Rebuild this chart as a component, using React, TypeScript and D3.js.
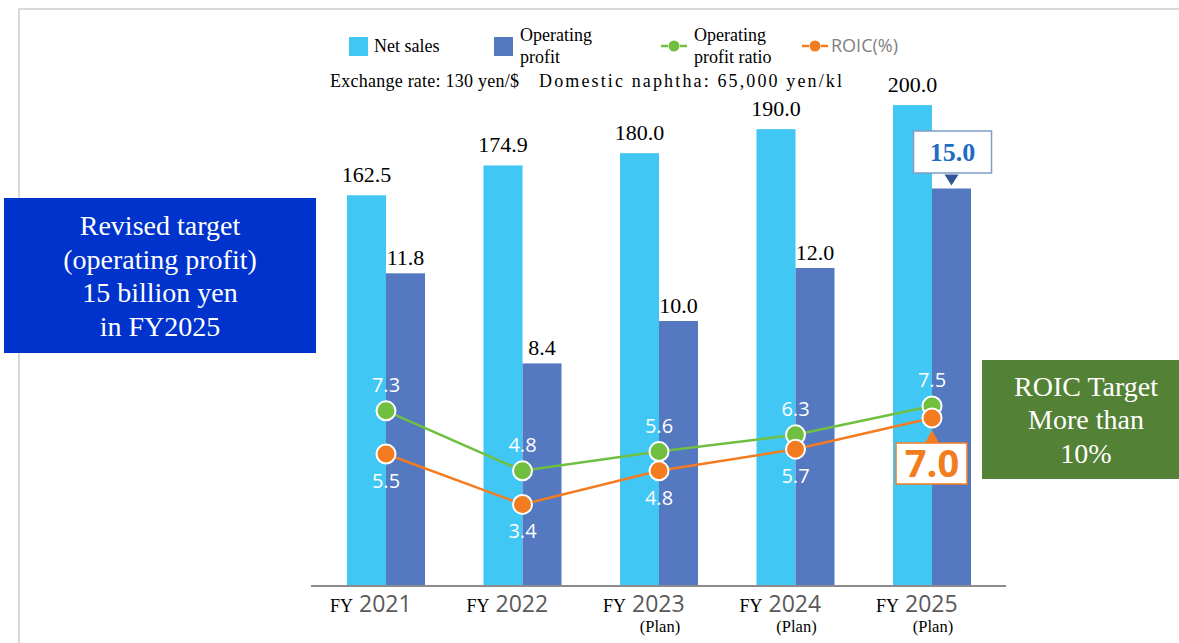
import React from "react";
import * as d3 from "d3";

const categories = ["2021", "2022", "2023", "2024", "2025"];
const planFlags = [false, false, true, true, true];
const netSales = [162.5, 174.9, 180.0, 190.0, 200.0];
const operatingProfit = [11.8, 8.4, 10.0, 12.0, 15.0];
const profitRatio = [7.3, 4.8, 5.6, 6.3, 7.5];
const roic = [5.5, 3.4, 4.8, 5.7, 7.0];

const C_SALES = "#40c7f4";
const C_PROFIT = "#5479c1";
const C_GREEN = "#70bf41";
const C_ORANGE = "#f47c20";
const SERIF = "'Liberation Serif', 'Times New Roman', serif";
const SANS = "'Open Sans', 'Noto Sans', sans-serif";

export default function App() {
  const W = 1179;
  const H = 643;
  const baseY = 586;
  const x = d3.scalePoint<string>().domain(categories).range([386, 932]);
  const ySales = d3.scaleLinear().domain([0, 220]).range([baseY, 57]);
  const yProfit = d3.scaleLinear().domain([0, 20]).range([baseY, 56]);
  const yRatio = d3.scaleLinear().domain([0, 20]).range([baseY, 106]);
  const bw = 39;
  const last = categories.length - 1;

  const line = d3
    .line<number>()
    .x((_, i) => x(categories[i]) as number)
    .y((d) => yRatio(d));

  const fmt = d3.format(".1f");

  return (
    <svg
      width={W}
      height={H}
      style={{ position: "absolute", left: 0, top: 0, background: "#fff" }}
    >
      <rect width={W} height={H} fill="#fff" />
      <path d={`M19,${H} V9 H${W}`} fill="none" stroke="#d9d9d9" strokeWidth={2} />

      {/* Legend */}
      <g fontFamily={SERIF} fontSize={18} fill="#000">
        <rect x={349} y={37} width={19} height={19} fill={C_SALES} />
        <text x={374} y={52}>Net sales</text>
        <rect x={494} y={37} width={19} height={19} fill={C_PROFIT} />
        <text x={520} y={41}>Operating</text>
        <text x={520} y={63}>profit</text>
        <line x1={661} x2={668} y1={46} y2={46} stroke={C_GREEN} strokeWidth={2.5} />
        <line x1={680} x2={687} y1={46} y2={46} stroke={C_GREEN} strokeWidth={2.5} />
        <circle cx={674} cy={46} r={5.5} fill={C_GREEN} />
        <text x={694} y={41}>Operating</text>
        <text x={694} y={63}>profit ratio</text>
        <line x1={802} x2={809} y1={46} y2={46} stroke={C_ORANGE} strokeWidth={2.5} />
        <line x1={821} x2={828} y1={46} y2={46} stroke={C_ORANGE} strokeWidth={2.5} />
        <circle cx={815} cy={46} r={5.5} fill={C_ORANGE} />
        <text x={831} y={52} fontFamily={SANS} fontSize={18} fill="#7f7f7f">ROIC(%)</text>
        <text x={330} y={87} fontSize={18} textLength={189} lengthAdjust="spacing">
          Exchange rate: 130 yen/$
        </text>
        <text x={539} y={87} fontSize={18} textLength={303} lengthAdjust="spacing">
          Domestic naphtha: 65,000 yen/kl
        </text>
      </g>

      {/* Bars */}
      {categories.map((c, i) => {
        const cx = x(c) as number;
        return (
          <g key={c}>
            <rect
              x={cx - bw}
              y={ySales(netSales[i])}
              width={bw}
              height={baseY - ySales(netSales[i])}
              fill={C_SALES}
            />
            <rect
              x={cx}
              y={yProfit(operatingProfit[i])}
              width={bw}
              height={baseY - yProfit(operatingProfit[i])}
              fill={C_PROFIT}
            />
            <text
              x={cx - bw / 2}
              y={ySales(netSales[i]) - 13}
              textAnchor="middle"
              fontFamily={SERIF}
              fontSize={22}
            >
              {fmt(netSales[i])}
            </text>
            {i !== last && (
              <text
                x={cx + bw / 2}
                y={yProfit(operatingProfit[i]) - 8}
                textAnchor="middle"
                fontFamily={SERIF}
                fontSize={22}
              >
                {fmt(operatingProfit[i])}
              </text>
            )}
          </g>
        );
      })}

      {/* Axis */}
      <line x1={311} x2={1006} y1={baseY} y2={baseY} stroke="#8c8c8c" strokeWidth={2} />
      {categories.map((c, i) => {
        const cx = x(c) as number;
        return (
          <g key={"ax" + c}>
            <text x={cx - 56} y={612}>
              <tspan fontFamily={SERIF} fontSize={18} fill="#000">FY</tspan>
              <tspan dx={6} fontFamily={SANS} fontSize={23} fill="#595959">{c}</tspan>
            </text>
            {planFlags[i] && (
              <text x={cx + 1} y={632} textAnchor="middle" fontFamily={SERIF} fontSize={16.5}>
                (Plan)
              </text>
            )}
          </g>
        );
      })}

      {/* Lines */}
      <path d={line(profitRatio) || ""} fill="none" stroke={C_GREEN} strokeWidth={2.5} />
      <path d={line(roic) || ""} fill="none" stroke={C_ORANGE} strokeWidth={2.5} />
      {profitRatio.map((v, i) => (
        <g key={"g" + i}>
          <circle
            cx={x(categories[i]) as number}
            cy={yRatio(v)}
            r={9.5}
            fill={C_GREEN}
            stroke="#fff"
            strokeWidth={2}
          />
          <text
            x={x(categories[i]) as number}
            y={yRatio(v) - 19}
            textAnchor="middle"
            fontFamily={SANS}
            fontSize={20}
            fill="#fff"
          >
            {fmt(v)}
          </text>
        </g>
      ))}
      {roic.map((v, i) => (
        <g key={"o" + i}>
          <circle
            cx={x(categories[i]) as number}
            cy={yRatio(v)}
            r={9.5}
            fill={C_ORANGE}
            stroke="#fff"
            strokeWidth={2}
          />
          {i !== last && (
            <text
              x={x(categories[i]) as number}
              y={yRatio(v) + 34}
              textAnchor="middle"
              fontFamily={SANS}
              fontSize={20}
              fill="#fff"
            >
              {fmt(v)}
            </text>
          )}
        </g>
      ))}

      {/* 15.0 callout */}
      {(() => {
        const cx = (x(categories[last]) as number) + bw / 2;
        const top = yProfit(operatingProfit[last]);
        return (
          <g>
            <rect x={cx - 38} y={131} width={78} height={42} fill="#fff" stroke="#7e9cc4" strokeWidth={1.5} />
            <path d={`M${cx - 7},${top - 14} L${cx + 7},${top - 14} L${cx},${top - 3} Z`} fill="#2f5597" />
            <text x={cx + 1} y={161} textAnchor="middle" fontFamily={SERIF} fontWeight="bold" fontSize={26} fill="#1f6cc4">
              {fmt(operatingProfit[last])}
            </text>
          </g>
        );
      })()}

      {/* 7.0 callout */}
      {(() => {
        const cx = x(categories[last]) as number;
        return (
          <g>
            <path d={`M${cx - 7},${443} L${cx + 7},${443} L${cx},${430} Z`} fill={C_ORANGE} />
            <rect x={cx - 36} y={443} width={71} height={41} fill="#fff" stroke={C_ORANGE} strokeWidth={1.5} />
            <text x={cx} y={477} textAnchor="middle" fontFamily={SANS} fontWeight="bold" fontSize={38} fill={C_ORANGE}>
              {fmt(roic[last])}
            </text>
          </g>
        );
      })()}

      {/* Left box */}
      <rect x={4} y={198} width={312} height={155} fill="#0033cc" />
      <g fontFamily={SERIF} fontSize={28} fill="#fff" textAnchor="middle">
        <text x={160} y={235}>Revised target</text>
        <text x={160} y={269}>(operating profit)</text>
        <text x={160} y={302}>15 billion yen</text>
        <text x={160} y={336}>in FY2025</text>
      </g>

      {/* Right box */}
      <rect x={982} y={360} width={197} height={119} fill="#538135" />
      <g fontFamily={SERIF} fontSize={28} fill="#fff" textAnchor="middle">
        <text x={1086} y={396}>ROIC Target</text>
        <text x={1086} y={429}>More than</text>
        <text x={1086} y={463}>10%</text>
      </g>
    </svg>
  );
}
